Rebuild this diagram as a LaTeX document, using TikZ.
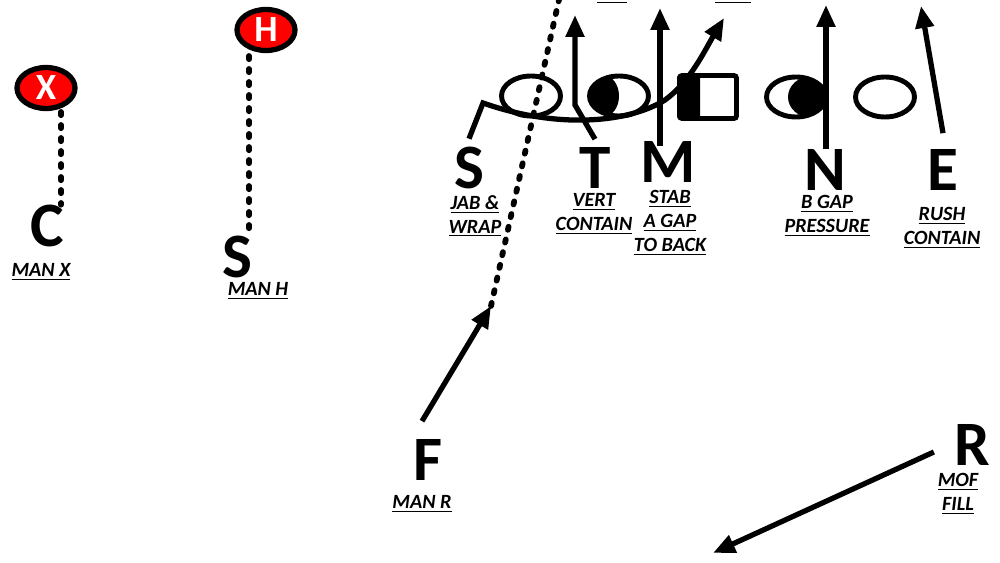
\documentclass[tikz,border=0pt]{standalone}
\usepackage{fontspec}
\setmainfont{Carlito}
\usetikzlibrary{arrows.meta,shapes.geometric}

\begin{document}
\begin{tikzpicture}[x=0.02cm,y=-0.02cm,
    player/.style={font=\fontsize{36}{40}\selectfont\bfseries,inner sep=0pt},
    note/.style={font=\fontsize{11.5}{13.6}\selectfont\bfseries\itshape,align=center,inner sep=0pt},
    target/.style={draw=black,line width=3pt,ellipse,fill=red,minimum width=1.16cm,minimum height=0.82cm,inner sep=0pt,text=white,font=\fontsize{21}{24}\selectfont\bfseries},
    lineman/.style={draw=black,line width=2.8pt,ellipse,minimum width=1.18cm,minimum height=0.8cm,inner sep=0pt},
    route/.style={line width=3pt,-{Triangle[length=0.44cm,width=0.36cm]}},
    manline/.style={line width=3.3pt,line cap=round,dash pattern=on 1.8pt off 5.6pt}]
    \useasboundingbox (0,0) rectangle (1000,563);
    \clip (0,0) rectangle (1000,563);

    % secondary
    \node[player] (C) at (47,226) {C};
    \node[player] (SS) at (237,257) {S};
    \node[note] (manx) at (41,272) {\underline{MAN X}};
    \node[note] (manh) at (258,291) {\underline{MAN H}};
    \coordinate (xfoot) at (61,112);
    \coordinate (hfoot) at (249,56);
    \draw[manline] (xfoot) -- (xfoot |- C.north);
    \draw[manline] (hfoot) -- (hfoot |- SS.north);
    \node[target] (X) at (46,88) {X};
    \node[target] (H) at (266,30) {H};

    % offense
    \fill[rounded corners=1.5pt] (677,75) rectangle (700,119);
    \node[lineman] (o1) at (531,96) {};
    \node[lineman] (o2) at (619,96) {};
    \node[draw=black,line width=2.8pt,rounded corners=1.5pt,minimum width=1.14cm,minimum height=0.86cm,inner sep=0pt] (o3) at (708,97) {};
    \node[lineman] (o4) at (796,97) {};
    \node[lineman] (o5) at (885,97) {};
    \begin{scope}
        \clip (619,96) ellipse [x radius=29, y radius=19];
        \fill (603,96) ellipse [x radius=16, y radius=21];
    \end{scope}
    \begin{scope}
        \clip (796,97) ellipse [x radius=29, y radius=19];
        \fill (812,97) ellipse [x radius=24, y radius=21];
    \end{scope}

    % front
    \node[player] (S) at (469,168) {S};
    \node[player] (T) at (595,168) {T};
    \node[player] (M) at (668,162) {M};
    \node[player] (N) at (825,170) {N};
    \node[player] (E) at (943,170) {E};
    \node[player] (F) at (428,460) {F};
    \node[player] (R) at (972,445) {R};

    \node[note] (jab) at (475,216) {\underline{JAB \&}\\\underline{WRAP}};
    \node[note] (vert) at (594,214) {\underline{VERT}\\\underline{CONTAIN}};
    \node[note] (stab) at (670,223) {\underline{STAB}\\\underline{A GAP}\\\underline{TO BACK}};
    \node[note] (bgap) at (827,216) {\underline{B GAP}\\\underline{PRESSURE}};
    \node[note] (rush) at (942,228) {\underline{RUSH}\\\underline{CONTAIN}};
    \node[note] (manr) at (422,504) {\underline{MAN R}};
    \node[note] (mof) at (958,494) {\underline{MOF}\\\underline{FILL}};
    \node[note] (first) at (612,-5) {\underline{1ST}};
    \node[note] (second) at (733,-5) {\underline{2ND}};

    % routes
    \coordinate (sbend) at (483,103);
    \coordinate (stip) at (724,18);
    \coordinate (tbend) at (575,105);
    \coordinate (ttip) at (575,15);
    \coordinate (mfoot) at (660,146);
    \coordinate (mtip) at (660,8);
    \coordinate (ntip) at (826,5);
    \coordinate (etip) at (921,6);
    \coordinate (ftip) at (491,306);
    \coordinate (fend) at (560,-5);
    \coordinate (rtip) at (713,553);

    \draw[route] ([yshift=0.16cm]S.north) -- (sbend) .. controls (560,130) and (630,122) .. (665,100) .. controls (690,82) and (705,50) .. (stip);
    \draw[route] ([yshift=0.16cm]T.north) -- (tbend) -- (ttip);
    \draw[route] (mfoot) -- (mtip);
    \draw[route] (ntip |- N.north) -- (ntip);
    \draw[route] ([yshift=0.32cm]E.north) -- (etip);
    \draw[route] ([xshift=-0.12cm,yshift=0.36cm]F.north) -- (ftip);
    \draw[manline] (ftip) -- (fend);
    \draw[route] ([xshift=-0.4cm,yshift=-0.14cm]R.west) -- (rtip);
\end{tikzpicture}
\end{document}
